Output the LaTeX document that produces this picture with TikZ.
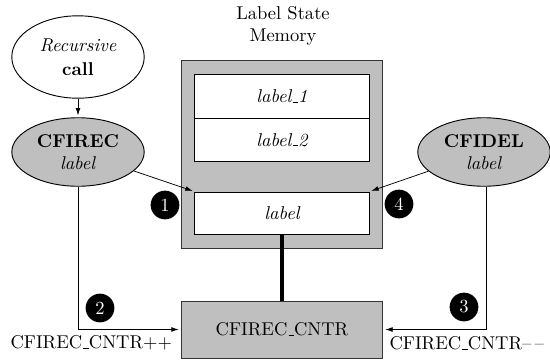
\documentclass[tikz,border=0pt]{standalone}
\usetikzlibrary{arrows.meta,shapes.geometric}
\newcommand{\usc}{\leavevmode\kern.06em\vbox{\hrule width.3em}}
\begin{document}
\begin{tikzpicture}[x=0.54pt,y=-0.54pt,
  ell/.style={ellipse,draw=black,line width=0.5pt,align=center,inner sep=0pt},
  grayfill/.style={fill=black!25},
  membox/.style={rectangle,draw=black!80,line width=0.5pt,fill=black!25},
  cell/.style={rectangle,draw=black,line width=0.5pt,fill=white,minimum width=94pt,font=\itshape},
  num/.style={circle,fill=black,text=white,inner sep=0pt,minimum size=15.5pt},
  arr/.style={-{Latex[length=4pt,width=2.6pt]},line width=0.4pt,shorten >=1pt},
  plain/.style={line width=0.4pt}]
\useasboundingbox (0,0) rectangle (550,362);
\node[align=center] (title) at (283,26) {Label State\\Memory};
\node[membox,minimum width=108.5pt,minimum height=102pt] (mem) at (281.5,154.5) {};
\node[cell,minimum height=23.5pt] (l1) at (282,96.5) {label\usc1};
\node[cell,minimum height=23.5pt] (l2) at (282,140) {label\usc2};
\node[cell,minimum height=22.7pt] (lbl) at (282,213) {label};
\node[membox,minimum width=109pt,minimum height=30.8pt] (cntr) at (282,329.5) {CFIREC\usc CNTR};
\node[ell,fill=white,minimum width=71.5pt,minimum height=44.5pt] (rec) at (78,57) {\textit{Recursive}\\[1pt]\textbf{call}};
\node[ell,grayfill,minimum width=71.5pt,minimum height=37pt] (cfirec) at (78,152) {\textbf{CFIREC}\\\textit{label}};
\node[ell,grayfill,minimum width=71.5pt,minimum height=37pt] (cfidel) at (484,152) {\textbf{CFIDEL}\\\textit{label}};
\draw[arr] (rec) -- (cfirec);
\draw[arr] (cfirec) -- (lbl.north west);
\draw[arr] (cfidel) -- (lbl.north east);
\draw[line width=2.2pt] (lbl.south) -- (cntr.north);
\coordinate (c2) at (78,329.5);
\coordinate (c3) at (486,329.5);
\draw[arr] (cfirec.south) -- (c2) -- (cntr.west);
\draw[arr] (c3 |- cfidel.south) -- (c3) -- (cntr.east);
\node[num] (n1) at (165,205) {1};
\node[num] (n4) at (399,204) {4};
\node[num] (n2) at (100,308) {2};
\node[num] (n3) at (464,307) {3};
\node[anchor=west] (t2) at (4,343) {CFIREC\usc CNTR++};
\node[anchor=west] (t3) at (383,343) {CFIREC\usc CNTR--\,--};
\end{tikzpicture}
\end{document}
